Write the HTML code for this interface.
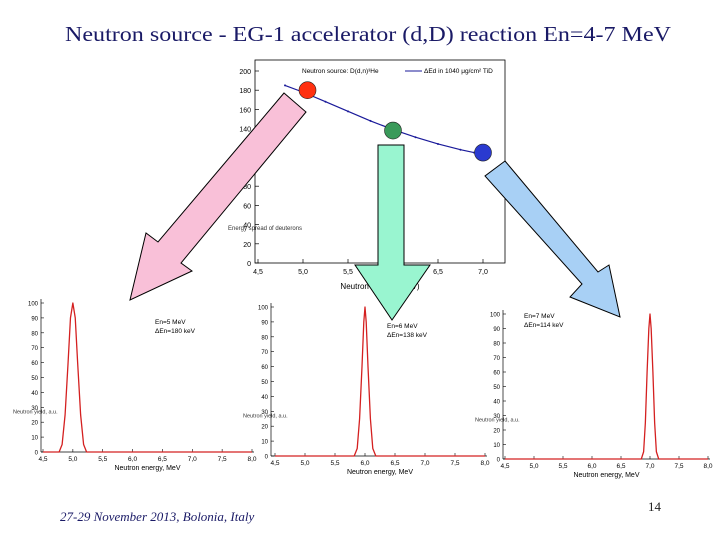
<!DOCTYPE html>
<html><head><meta charset="utf-8"><style>
html,body{margin:0;padding:0;background:#fff}
svg{display:block}
</style></head><body>
<svg id="s" width="720" height="540" xmlns="http://www.w3.org/2000/svg" font-family="Liberation Sans, sans-serif">
<text x="368" y="41" text-anchor="middle" font-family="Liberation Serif, serif" font-size="21" textLength="606" lengthAdjust="spacingAndGlyphs" fill="#1a1a66">Neutron source - EG-1 accelerator (d,D) reaction En=4-7 MeV</text>
<text x="60" y="521" font-family="Liberation Serif, serif" font-style="italic" font-size="13" fill="#1a1a66">27-29 November 2013, Bolonia, Italy</text>
<text x="648" y="511" font-family="Liberation Serif, serif" font-size="13" fill="#222">14</text>
<g id="top"></g>
<g id="c1"></g>
<g id="c2"></g>
<g id="c3"></g>
<polygon points="284,93 306,112 181,263 192,271 130,300 146,233 158,242" fill="#f9c0d8" stroke="#000" stroke-width="1"/>
<polygon points="378,145 404,145 404,265 430,265 392,320 355,265 378,265" fill="#99f5d0" stroke="#000" stroke-width="1"/>
<polygon points="505,161 598,272 609,265 620,317 570,297 582,284 485,176" fill="#a8d0f5" stroke="#000" stroke-width="1"/>
</svg>
<script>
const NS='http://www.w3.org/2000/svg';
function mk(p,t,a,txt){const e=document.createElementNS(NS,t);for(const k in a)e.setAttribute(k,a[k]);if(txt!==undefined)e.textContent=txt;p.appendChild(e);return e;}

// Top chart data
const topX=[4.8,5.0,5.25,5.5,5.75,6.0,6.25,6.5,6.75,6.9];
const topY=[185,178,168,158,148,139,131,124,118,115];
const markX=[5.05,6.0,7.0];
const markY=[180,138,115];
const markColors=['#ff3010','#3a9a5a','#2a3ad0'];
const topXTicks=['4,5','5,0','5,5','6,0','6,5','7,0'];
const topXTickVals=[4.5,5.0,5.5,6.0,6.5,7.0];
const topYTicks=[0,20,40,60,80,100,120,140,160,180,200];

// Spectrum data
const specXTicks=['4,5','5,0','5,5','6,0','6,5','7,0','7,5','8,0'];
const specXTickVals=[4.5,5.0,5.5,6.0,6.5,7.0,7.5,8.0];
const specYTicks=[0,10,20,30,40,50,60,70,80,90,100];
const peak1X=[4.5,4.77,4.82,4.87,4.92,4.96,5.0,5.04,5.08,5.13,5.18,5.23,8.0];
const peak1Y=[0,0,5,25,60,90,100,90,60,25,5,0,0];
const peak2X=[4.5,5.82,5.87,5.91,5.95,5.98,6.0,6.02,6.05,6.09,6.13,6.18,8.0];
const peak2Y=[0,0,5,25,60,90,100,90,60,25,5,0,0];
const peak3X=[4.5,6.85,6.89,6.92,6.95,6.98,7.0,7.02,7.05,7.08,7.11,7.15,8.0];
const peak3Y=[0,0,5,25,60,90,100,90,60,25,5,0,0];
const labels1=['En=5 MeV','ΔEn=180 keV'];
const labels2=['En=6 MeV','ΔEn=138 keV'];
const labels3=['En=7 MeV','ΔEn=114 keV'];

// Top chart
(function(){
 const g=document.getElementById('top');
 const x0=4.5,x1=7.0,px0=258,px1=483;
 const sx=v=>px0+(v-x0)*(px1-px0)/(x1-x0);
 const sy=v=>263-v*0.96;
 const f=mk(g,'rect',{x:255,y:60,width:250,height:203,fill:'#fff',stroke:'#000','stroke-width':0.8});
 
 
 topYTicks.forEach(v=>{mk(g,'line',{x1:255,x2:259,y1:sy(v),y2:sy(v),stroke:'#000','stroke-width':0.7});
  const t=mk(g,'text',{x:251,y:sy(v)+3,'text-anchor':'end','font-size':7},String(v));
  });
 topXTickVals.forEach((v,i)=>{mk(g,'line',{x1:sx(v),x2:sx(v),y1:263,y2:259,stroke:'#000','stroke-width':0.7});
  const t=mk(g,'text',{x:sx(v),y:274,'text-anchor':'middle','font-size':7},topXTicks[i]);
  });
 const xt=mk(g,'text',{x:380,y:289,'text-anchor':'middle','font-size':8},'Neutron energy (MeV)');
 
 const lg=mk(g,'text',{x:302,y:73,'font-size':6.5},'Neutron source: D(d,n)³He');
 
 mk(g,'line',{x1:405,x2:422,y1:71,y2:71,stroke:'#1a1a9a','stroke-width':1});
 const lg2=mk(g,'text',{x:424,y:73,'font-size':6.5},'ΔEd in 1040 μg/cm² TiD');
 
 const yt=mk(g,'text',{x:228,y:230,'font-size':6,fill:'#333'},'Energy spread of deuterons');
 
 const ln=mk(g,'polyline',{points:topX.map((v,i)=>sx(v)+','+sy(topY[i])).join(' '),fill:'none',stroke:'#1a1a9a','stroke-width':1.2});
 
 topX.forEach((v,i)=>{mk(g,'circle',{cx:sx(v),cy:sy(topY[i]),r:1,fill:'#1a1a9a'});});
 markX.forEach((v,i)=>{const c=mk(g,'circle',{cx:sx(v),cy:sy(markY[i]),r:8.5,fill:markColors[i],stroke:'#222','stroke-width':0.6});
  });
})();

function spec(id,ax,px0,px1,py0,py100,xs,ys,lbl,lx,ly){
 const g=document.getElementById(id);
 const sx=v=>px0+(v-4.5)*(px1-px0)/3.5;
 const sy=v=>py0+(py100-py0)*v/100;
 mk(g,'line',{x1:ax,x2:ax,y1:py0,y2:py100-4,stroke:'#000','stroke-width':0.7});
 mk(g,'line',{x1:ax,x2:px1+2,y1:py0,y2:py0,stroke:'#000','stroke-width':0.7});
 specYTicks.forEach(v=>{mk(g,'line',{x1:ax,x2:ax+3,y1:sy(v),y2:sy(v),stroke:'#000','stroke-width':0.6});
  const t=mk(g,'text',{x:ax-3,y:sy(v)+2.5,'text-anchor':'end','font-size':6},String(v));
  });
 specXTickVals.forEach((v,i)=>{mk(g,'line',{x1:sx(v),x2:sx(v),y1:py0,y2:py0-3,stroke:'#000','stroke-width':0.6});
  const t=mk(g,'text',{x:sx(v),y:py0+9,'text-anchor':'middle','font-size':6.5},specXTicks[i]);
  });
 const xt=mk(g,'text',{x:(px0+px1)/2,y:py0+18,'text-anchor':'middle','font-size':7},'Neutron energy, MeV');
 
 const yt=mk(g,'text',{x:ax-28,y:sy(26),'font-size':5.5,fill:'#333'},'Neutron yield, a.u.');
 
 const ln=mk(g,'polyline',{points:xs.map((v,i)=>sx(v)+','+sy(ys[i])).join(' '),fill:'none',stroke:'#d42020','stroke-width':1.3,'stroke-linejoin':'round'});
 
 lbl.forEach((s,i)=>{const t=mk(g,'text',{x:lx,y:ly+i*9,'font-size':6.5},s);
  });
}
spec('c1',41,43,252,452,303,peak1X,peak1Y,labels1,155,324);
spec('c2',271,275,485,456,307,peak2X,peak2Y,labels2,387,328);
spec('c3',503,505,708,459,314,peak3X,peak3Y,labels3,524,318);
</script>
</body></html>
